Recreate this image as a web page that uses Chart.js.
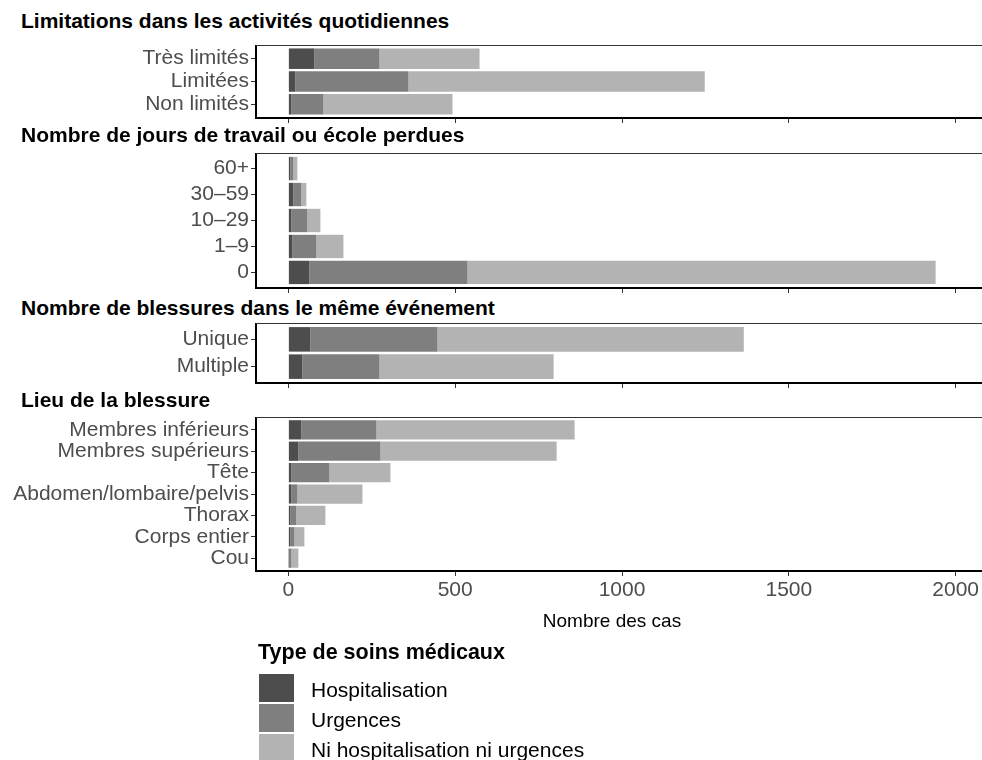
<!DOCTYPE html>
<html lang="fr">
<head>
<meta charset="utf-8">
<title>Type de soins médicaux</title>
<script src="https://cdn.jsdelivr.net/npm/chart.js@4/dist/chart.umd.min.js"></script>
<style>
  html, body { margin: 0; padding: 0; background: #fff; }
  body { font-family: 'Liberation Sans', Arial, Helvetica, sans-serif; }
  #page { position: relative; width: 982px; height: 760px; overflow: hidden; background: #fff; }
  canvas { position: absolute; left: 0; }
  .strip { position: absolute; left: 21px; font-size: 21px; line-height: 21px; font-weight: bold; color: #000; white-space: nowrap; }
  #legend-title { position: absolute; left: 258px; top: 642px; font-size: 21.5px; line-height: 21px; font-weight: bold; color: #000; white-space: nowrap; }
  .key-row { position: absolute; left: 259px; height: 28px; display: flex; align-items: center; }
  .key { width: 35px; height: 28px; }
  .key-label { margin-left: 17px; font-size: 21px; line-height: 28px; color: #000; position: relative; top: 2px; white-space: nowrap; }
</style>
</head>
<body>
<div id="page">
  <div class="strip" style="top:10px">Limitations dans les activités quotidiennes</div>
  <canvas id="c1" width="982" height="79" style="top:45px"></canvas>
  <div class="strip" style="top:124px">Nombre de jours de travail ou école perdues</div>
  <canvas id="c2" width="982" height="141" style="top:153px"></canvas>
  <div class="strip" style="top:297px">Nombre de blessures dans le même événement</div>
  <canvas id="c3" width="982" height="66" style="top:323px"></canvas>
  <div class="strip" style="top:389px">Lieu de la blessure</div>
  <canvas id="c4" width="982" height="224" style="top:417px"></canvas>
  <div id="legend-title">Type de soins médicaux</div>
  <div id="legend"></div>
</div>
<script>
// series (type de soins), bottom to top of each stack
const TYPES = ['Hospitalisation', 'Urgences', 'Ni hospitalisation ni urgences'];
const COLORS = ['#4D4D4D', '#7F7F7F', '#B3B3B3'];
const X_TICKS = [0, 500, 1000, 1500, 2000];

// Limitations dans les activités quotidiennes
const limCats = ['Très limités', 'Limitées', 'Non limités'];
const limHosp = [78, 21, 9];
const limUrg = [195, 339, 96];
const limNi = [300, 888, 387];

// Nombre de jours de travail ou école perdues
const jourCats = ['60+', '30–59', '10–29', '1–9', '0'];
const jourHosp = [6, 15, 9, 12, 63];
const jourUrg = [9, 24, 48, 72, 474];
const jourNi = [12, 15, 39, 81, 1403];

// Nombre de blessures dans le même événement
const blessCats = ['Unique', 'Multiple'];
const blessHosp = [66, 42];
const blessUrg = [381, 231];
const blessNi = [918, 522];

// Lieu de la blessure
const lieuCats = ['Membres inférieurs', 'Membres supérieurs', 'Tête', 'Abdomen/lombaire/pelvis', 'Thorax', 'Corps entier', 'Cou'];
const lieuHosp = [39, 30, 9, 9, 6, 6, 1];
const lieuUrg = [225, 246, 114, 18, 18, 12, 8];
const lieuNi = [594, 528, 183, 195, 87, 30, 21];

const FONT = "'Liberation Sans', Arial, Helvetica, sans-serif";

// thin line closing the top of each panel; the panel runs on past the right edge
const panelFrame = {
  id: 'panelFrame',
  afterDraw(chart) {
    const { ctx, chartArea, width } = chart;
    ctx.save();
    ctx.strokeStyle = '#333333';
    ctx.lineWidth = 1;
    ctx.beginPath();
    ctx.moveTo(chartArea.left, chartArea.top + 0.5);
    ctx.lineTo(width, chartArea.top + 0.5);
    ctx.stroke();
    ctx.strokeStyle = '#000000';
    ctx.lineWidth = 2;
    ctx.beginPath();
    ctx.moveTo(chartArea.right, chartArea.bottom);
    ctx.lineTo(width, chartArea.bottom);
    ctx.stroke();
    ctx.restore();
  }
};

// labels may overhang the panel, like ggplot; no extra room kept for them
function noPadding(axis) {
  axis.paddingTop = 0;
  axis.paddingBottom = 0;
  axis.paddingLeft = 0;
  axis.paddingRight = 0;
}

function makePanel(id, cats, hosp, urg, ni, showAxis) {
  const series = [hosp, urg, ni];
  return new Chart(document.getElementById(id), {
    type: 'bar',
    data: {
      datasets: series.map((vals, k) => ({
        label: TYPES[k],
        data: vals.map((v, i) => ({ x: v, y: i })),
        backgroundColor: COLORS[k],
        borderWidth: 0,
        categoryPercentage: 0.9,
        barPercentage: 1
      }))
    },
    options: {
      indexAxis: 'y',
      responsive: false,
      animation: false,
      events: [],
      layout: { padding: { left: 0, top: 0, bottom: 0, right: 14 } },
      plugins: { legend: { display: false }, tooltip: { enabled: false } },
      scales: {
        x: {
          type: 'linear',
          stacked: true,
          min: -97,
          max: 2037,
          afterBuildTicks: (axis) => { axis.ticks = X_TICKS.map(v => ({ value: v })); },
          grid: { drawOnChartArea: false, tickLength: 5, tickColor: '#333333', tickWidth: 1 },
          border: { color: '#000000', width: 2 },
          ticks: { display: showAxis, color: '#4D4D4D', font: { family: FONT, size: 21 }, padding: 2, maxRotation: 0, callback: (v) => String(v) },
          title: { display: showAxis, text: 'Nombre des cas', color: '#000000', font: { family: FONT, size: 19 }, padding: { top: 0, bottom: 8 } },
          afterFit: (axis) => { axis.height = showAxis ? 70 : 6; noPadding(axis); }
        },
        y: {
          type: 'linear',
          stacked: true,
          reverse: true,
          offset: false,
          min: -0.6,
          max: cats.length - 0.4,
          afterBuildTicks: (axis) => { axis.ticks = cats.map((c, i) => ({ value: i })); },
          grid: { offset: false, drawOnChartArea: false, tickLength: 5, tickColor: '#333333', tickWidth: 1 },
          border: { color: '#000000', width: 2 },
          ticks: { autoSkip: false, color: '#4D4D4D', font: { family: FONT, size: 21 }, padding: 2, callback: (v) => cats[v] },
          afterFit: (axis) => { axis.width = 256; noPadding(axis); }
        }
      }
    },
    plugins: [panelFrame]
  });
}

makePanel('c1', limCats, limHosp, limUrg, limNi, false);
makePanel('c2', jourCats, jourHosp, jourUrg, jourNi, false);
makePanel('c3', blessCats, blessHosp, blessUrg, blessNi, false);
makePanel('c4', lieuCats, lieuHosp, lieuUrg, lieuNi, true);

// legend, one key per row
const legend = document.getElementById('legend');
TYPES.forEach((name, k) => {
  const row = document.createElement('div');
  row.className = 'key-row';
  row.style.top = (674 + k * 30) + 'px';
  const key = document.createElement('span');
  key.className = 'key';
  key.style.background = COLORS[k];
  const label = document.createElement('span');
  label.className = 'key-label';
  label.textContent = name;
  row.appendChild(key);
  row.appendChild(label);
  legend.appendChild(row);
});
</script>
</body>
</html>
